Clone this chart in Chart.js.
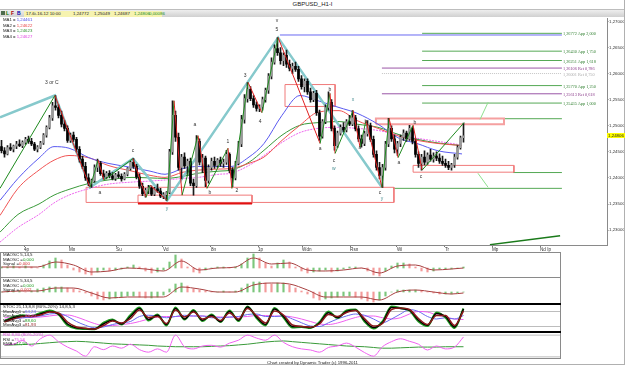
<!DOCTYPE html>
<html>
<head>
<meta charset="utf-8">
<title>GBPUSD_H1-I</title>
<script src="https://cdn.jsdelivr.net/npm/chart.js@4.4.1/dist/chart.umd.min.js"></script>
<style>
html,body{margin:0;padding:0;background:#fff}
body{position:relative;width:625px;height:365px;overflow:hidden;font-family:"Liberation Sans","DejaVu Sans",sans-serif;color:#222}
canvas{position:absolute;left:0}
.a{position:absolute;white-space:nowrap}
.n{font-family:"Liberation Sans Narrow","Liberation Sans",sans-serif}
.leg{font-size:4.3px;line-height:5px;left:3px}
.pl{font-size:4.4px;line-height:4.6px;left:3px}
.wave{position:absolute;font-size:5px;line-height:5px;transform:translate(-50%,-50%);white-space:nowrap;color:#333}
.proj{position:absolute;font-family:"Liberation Serif",serif;font-size:4.3px;line-height:5px;transform:translateY(-50%);white-space:nowrap}
.ln{position:absolute}
</style>
</head>
<body>
<div class="a" style="left:0;top:0;width:625px;text-align:center;font-size:6px;line-height:8px">GBPUSD_H1-I</div>
<div class="ln" style="left:0;top:9px;width:625px;height:8px;background:linear-gradient(#eeeeee,#d0d0d0);border-top:1px solid #bdbdbd;box-sizing:border-box"></div>
<div class="ln" style="left:1px;top:11px;width:4px;height:4px;background:#4d6b4d"></div>
<div class="a" style="left:6px;top:10px;font-size:5px;line-height:6px;font-weight:bold;color:#070">L</div>
<div class="a" style="left:11px;top:10px;font-size:5px;line-height:6px;font-weight:bold;color:#a00">F</div>
<div class="a" style="left:17px;top:10px;font-size:5px;line-height:6px;font-weight:bold;color:#00a">B</div>
<div class="ln" style="left:24px;top:10.5px;width:138px;height:6px;background:#f6f3b0"></div>
<div class="a n" style="left:26px;top:10.5px;font-size:4.4px;line-height:6px">17-6i-16-12 10:00</div>
<div class="a n" style="left:73px;top:10.5px;font-size:4.4px;line-height:6px">1,24772</div>
<div class="a n" style="left:94px;top:10.5px;font-size:4.4px;line-height:6px">1,25049</div>
<div class="a n" style="left:114px;top:10.5px;font-size:4.4px;line-height:6px">1,24687</div>
<div class="a n" style="left:134px;top:10.5px;font-size:4.4px;line-height:6px;color:#1a8a1a">1,24806</div>
<div class="a n" style="left:149px;top:10.5px;font-size:4.4px;line-height:6px;color:#1a8a1a">0,00086</div>

<canvas id="main" width="625" height="235" style="top:18px"></canvas>

<div class="a n leg" style="top:17px">MA1 = <span style="color:#4a4ae8">1,24461</span></div>
<div class="a n leg" style="top:22.5px">MA2 = <span style="color:#e84040">1,24622</span></div>
<div class="a n leg" style="top:28px">MA3 = <span style="color:#2a902a">1,24623</span></div>
<div class="a n leg" style="top:33.5px">MA4 = <span style="color:#e040e0">1,24627</span></div>

<canvas id="osc1" width="560" height="26" style="top:252px"></canvas>
<canvas id="osc2" width="560" height="26" style="top:278px"></canvas>
<canvas id="stoc" width="560" height="28" style="top:304px"></canvas>
<canvas id="rsi" width="560" height="27" style="top:332px"></canvas>

<div class="ln" style="left:0;top:252px;width:561px;height:107px;border:1px solid #8a8a8a;box-sizing:border-box"></div>
<div class="ln" style="left:0;top:277px;width:561px;height:1px;background:#8a8a8a"></div>
<div class="ln" style="left:0;top:303px;width:561px;height:2px;background:#000"></div>
<div class="ln" style="left:0;top:330.5px;width:561px;height:2px;background:#000"></div>
<div class="ln" style="left:624px;top:0;width:1px;height:365px;background:#b0b0b0"></div>
<div class="ln" style="left:0;top:364px;width:625px;height:1px;background:#b0b0b0"></div>

<div class="a pl" style="top:253px">MAOSC 5,14,5</div>
<div class="a pl" style="top:257.6px">MAOSC =<span style="color:#1a9a1a">0,000</span></div>
<div class="a pl" style="top:262.2px">Signal =<span style="color:#d03030">0,000</span></div>
<div class="a pl" style="top:279px">MAOSC 5,34,5</div>
<div class="a pl" style="top:283.6px">MAOSC =<span style="color:#1a9a1a">0,000</span></div>
<div class="a pl" style="top:288.2px">Signal =<span style="color:#d03030">-0,002</span></div>
<div class="a pl" style="top:305px">STOC 21,13,8,8 (80%-20%) 14,8,5,3</div>
<div class="a pl" style="top:309.6px">MovAvg1 =<span style="color:#5a5ae8">64,24</span></div>
<div class="a pl" style="top:314.2px">MovAvg2 =<span style="color:#e040e0">48,20</span></div>
<div class="a pl" style="top:318.8px">MovAvg3 =<span style="color:#1a9a1a">88,60</span></div>
<div class="a pl" style="top:323.4px">MovAvg3 =<span style="color:#8b1a1a">81,93</span></div>
<div class="a pl" style="top:333px;color:#e050e0">RSI 8,80 (80%-20%)</div>
<div class="a pl" style="top:337.6px">RSI =<span style="color:#e050e0">75,56</span></div>
<div class="a pl" style="top:342.2px">EMA =<span style="color:#1a9a1a">47,94</span></div>

<div class="a n" style="left:0;top:359.5px;width:625px;text-align:center;font-size:4.3px;line-height:5px">Chart created by Dynamic Trader  (c) 1996-2011</div>

<script>
// ---------------- price bars (GBPUSD H1) ----------------
var opens = [
 1.2460,1.2452,1.2446,1.2458,1.2455,1.2461,1.2465,1.2462,1.2468,1.2474,
 1.2470,1.2465,1.2455,1.2459,1.2467,1.2482,1.2497,1.2515,1.2538,1.2535,
 1.2520,1.2503,1.2495,1.2472,1.2482,1.2474,1.2455,1.2436,1.2422,1.2400,
 1.2390,1.2395,1.2420,1.2428,1.2408,1.2402,1.2409,1.2404,1.2399,1.2406,
 1.2403,1.2398,1.2407,1.2418,1.2430,1.2422,1.2402,1.2384,1.2370,1.2376,
 1.2381,1.2369,1.2379,1.2375,1.2365,1.2368,1.2372,1.2450,1.2520,1.2478,
 1.2420,1.2440,1.2423,1.2432,1.2390,1.2385,1.2470,1.2430,1.2438,1.2395,
 1.2420,1.2432,1.2424,1.2434,1.2428,1.2430,1.2445,1.2415,1.2400,1.2428,
 1.2465,1.2512,1.2552,1.2570,1.2552,1.2540,1.2533,1.2536,1.2550,1.2568,
 1.2595,1.2622,1.2648,1.2640,1.2625,1.2635,1.2618,1.2610,1.2614,1.2608,
 1.2590,1.2575,1.2585,1.2565,1.2550,1.2562,1.2525,1.2480,1.2508,1.2535,
 1.2545,1.2495,1.2462,1.2486,1.2497,1.2492,1.2508,1.2503,1.2515,1.2494,
 1.2475,1.2466,1.2485,1.2500,1.2474,1.2445,1.2420,1.2405,1.2420,1.2465,
 1.2495,1.2475,1.2455,1.2466,1.2478,1.2486,1.2475,1.2495,1.2470,1.2445,
 1.2428,1.2440,1.2430,1.2444,1.2436,1.2442,1.2438,1.2432,1.2428,1.2424,
 1.2420,1.2425,1.2440,1.2458,1.24772
];
var highs = [
 1.2472,1.2458,1.2462,1.2466,1.2463,1.2470,1.2473,1.2471,1.2478,1.2480,
 1.2476,1.2468,1.2462,1.2470,1.2485,1.2500,1.2520,1.2545,1.2558,1.2540,
 1.2528,1.2510,1.2500,1.2486,1.2488,1.2478,1.2460,1.2442,1.2430,1.2408,
 1.2398,1.2425,1.2436,1.2432,1.2415,1.2412,1.2414,1.2410,1.2409,1.2412,
 1.2408,1.2410,1.2420,1.2432,1.2437,1.2426,1.2408,1.2390,1.2380,1.2386,
 1.2385,1.2382,1.2388,1.2380,1.2372,1.2374,1.2455,1.2548,1.2528,1.2486,
 1.2445,1.2448,1.2436,1.2438,1.2398,1.2481,1.2475,1.2445,1.2442,1.2425,
 1.2438,1.2440,1.2437,1.2440,1.2436,1.2453,1.2448,1.2420,1.2432,1.2470,
 1.2520,1.2560,1.2583,1.2575,1.2558,1.2546,1.2540,1.2555,1.2572,1.2600,
 1.2630,1.2655,1.2669,1.2650,1.2640,1.2645,1.2626,1.2620,1.2622,1.2614,
 1.2596,1.2590,1.2590,1.2572,1.2566,1.2568,1.2530,1.2512,1.2540,1.2565,
 1.2550,1.2500,1.2490,1.2502,1.2506,1.2512,1.2520,1.2529,1.2520,1.2500,
 1.2482,1.2490,1.2510,1.2505,1.2480,1.2452,1.2430,1.2426,1.2470,1.2514,
 1.2500,1.2482,1.2470,1.2482,1.2492,1.2490,1.2501,1.2498,1.2475,1.2450,
 1.2445,1.2452,1.2448,1.2455,1.2448,1.2450,1.2446,1.2442,1.2436,1.2432,
 1.2428,1.2445,1.2462,1.2480,1.25049
];
var lows = [
 1.2448,1.2440,1.2444,1.2452,1.2450,1.2456,1.2460,1.2458,1.2464,1.2466,
 1.2462,1.2452,1.2450,1.2456,1.2464,1.2478,1.2494,1.2510,1.2530,1.2515,
 1.2498,1.2490,1.2468,1.2468,1.2470,1.2450,1.2430,1.2418,1.2395,1.2385,
 1.2382,1.2392,1.2412,1.2405,1.2398,1.2398,1.2400,1.2396,1.2395,1.2400,
 1.2394,1.2396,1.2404,1.2415,1.2418,1.2398,1.2380,1.2366,1.2363,1.2370,
 1.2366,1.2366,1.2372,1.2362,1.2360,1.2357,1.2370,1.2445,1.2470,1.2415,
 1.2398,1.2418,1.2405,1.2385,1.2367,1.2382,1.2425,1.2410,1.2383,1.2390,
 1.2415,1.2418,1.2420,1.2422,1.2420,1.2426,1.2410,1.2383,1.2396,1.2425,
 1.2460,1.2505,1.2545,1.2548,1.2535,1.2528,1.2527,1.2530,1.2545,1.2562,
 1.2590,1.2618,1.2635,1.2618,1.2615,1.2612,1.2605,1.2600,1.2604,1.2585,
 1.2570,1.2565,1.2560,1.2545,1.2546,1.2520,1.2472,1.2476,1.2504,1.2530,
 1.2490,1.2453,1.2458,1.2482,1.2488,1.2488,1.2500,1.2500,1.2490,1.2470,
 1.2459,1.2462,1.2480,1.2470,1.2440,1.2415,1.2398,1.2382,1.2415,1.2460,
 1.2470,1.2448,1.2443,1.2460,1.2472,1.2470,1.2472,1.2465,1.2440,1.2420,
 1.2415,1.2425,1.2426,1.2432,1.2430,1.2433,1.2428,1.2424,1.2420,1.2416,
 1.2415,1.2420,1.2436,1.2455,1.24687
];
var closes = [
 1.2452,1.2446,1.2458,1.2455,1.2461,1.2465,1.2462,1.2468,1.2474,1.2470,
 1.2465,1.2455,1.2459,1.2467,1.2482,1.2497,1.2515,1.2538,1.2535,1.2520,
 1.2503,1.2495,1.2472,1.2482,1.2474,1.2455,1.2436,1.2422,1.2400,1.2390,
 1.2395,1.2420,1.2428,1.2408,1.2402,1.2409,1.2404,1.2399,1.2406,1.2403,
 1.2398,1.2407,1.2418,1.2430,1.2422,1.2402,1.2384,1.2370,1.2376,1.2381,
 1.2369,1.2379,1.2375,1.2365,1.2368,1.2372,1.2450,1.2520,1.2478,1.2420,
 1.2440,1.2423,1.2432,1.2390,1.2385,1.2470,1.2430,1.2438,1.2395,1.2420,
 1.2432,1.2424,1.2434,1.2428,1.2430,1.2445,1.2415,1.2400,1.2428,1.2465,
 1.2512,1.2552,1.2570,1.2552,1.2540,1.2533,1.2536,1.2550,1.2568,1.2595,
 1.2622,1.2648,1.2640,1.2625,1.2635,1.2618,1.2610,1.2614,1.2608,1.2590,
 1.2575,1.2585,1.2565,1.2550,1.2562,1.2525,1.2480,1.2508,1.2535,1.2545,
 1.2495,1.2462,1.2486,1.2497,1.2492,1.2508,1.2503,1.2515,1.2494,1.2475,
 1.2466,1.2485,1.2500,1.2474,1.2445,1.2420,1.2405,1.2420,1.2465,1.2495,
 1.2475,1.2455,1.2466,1.2478,1.2486,1.2475,1.2495,1.2470,1.2445,1.2428,
 1.2440,1.2430,1.2444,1.2436,1.2442,1.2438,1.2432,1.2428,1.2424,1.2420,
 1.2425,1.2440,1.2458,1.2477,1.24806
];

// moving averages, read at these bars
var maBars = [0,6,13,18,23,30,36,44,50,55,61,66,73,77,83,88,94,100,106,113,119,126,133,139,146,154];
var ma1 = [1.2357,1.2399,1.2438,1.2460,1.2457,1.2438,1.2428,1.2420,1.2413,1.2407,1.2418,1.2422,1.2422,1.2422,1.2440,1.2466,1.2520,1.2558,1.2548,1.2535,1.2524,1.2503,1.2476,1.2466,1.2452,1.2446];
var ma2 = [1.2328,1.2380,1.2415,1.2434,1.2443,1.2438,1.2424,1.2413,1.2405,1.2401,1.2411,1.2415,1.2417,1.2418,1.2428,1.2440,1.2472,1.2501,1.2526,1.2529,1.2510,1.2495,1.2480,1.2472,1.2466,1.2462];
var ma3 = [1.2296,1.2330,1.2350,1.2367,1.2378,1.2390,1.2396,1.2401,1.2400,1.2399,1.2403,1.2409,1.2413,1.2415,1.2430,1.2453,1.2482,1.2501,1.2506,1.2508,1.2503,1.2497,1.2483,1.2474,1.2467,1.2462];
var ma4 = [1.2277,1.2305,1.2330,1.2352,1.2367,1.2380,1.2388,1.2392,1.2394,1.2396,1.2399,1.2401,1.2407,1.2409,1.2424,1.2443,1.2468,1.2487,1.2495,1.2497,1.2495,1.2491,1.2482,1.2476,1.2470,1.2463];

// wave count lines
var cyanBars = [0,18.3,30,44.3,55.7,92.7,127.3];
var cyanPrices = [1.2516,1.2558,1.2382,1.2437,1.2357,1.2669,1.2382];
var swingBars = [0,18.3,30,32.7,34.7,44.3,48.7,50,55.7,58,60.7,66,69,76,77.3,82.7,87.3,92.7,106.7,110,111.7,117.7,120,122,127.3,129.7,132.7,137.7,140.7,154.7];
var swingPrices = [1.2380,1.2558,1.2382,1.2434,1.2396,1.2437,1.2363,1.2386,1.2357,1.2548,1.2367,1.2481,1.2380,1.2457,1.2380,1.2583,1.2525,1.2669,1.2466,1.2562,1.2447,1.2529,1.2459,1.2510,1.2382,1.2514,1.2439,1.2501,1.2415,1.2506];
var projUpBars = [160,162.7], projUpPrices = [1.2512,1.2545];
var projDnBars = [159.3,162.7], projDnPrices = [1.2409,1.2382];
var trendBars = [163.3,186.7], trendPrices = [1.2272,1.2289];

// boxes
var boxFrom = [28.7,95,125.3,137.7,46];
var boxTo = [131.3,111.7,168,171.3,84];
var boxLow = [1.2353,1.2537,1.2503,1.2411,1.2351];
var boxHigh = [1.2382,1.2579,1.2514,1.2424,1.2367];

// projection / retracement levels
var projPrices = [1.26772,1.26430,1.26251,1.26106,1.26001,1.25770,1.25613,1.25435];
var projTexts = ["1,26772 App 2,000","1,26430 App 1,750","1,26251 App 1,618","1,26106 Ret 0,786","1,26001 Ret 0,750","1,25770 App 1,250","1,25613 Ret 0,618","1,25435 App 1,000"];
var projKinds = ["app","app","app","ret","ret75","app","ret","app"];
var projFrom = [140.7,140.7,140.7,127.3,127.3,140.7,127.3,140.7];
var levelPrices = [1.26740,1.25135,1.24103,1.23800];
var levelFrom = [93.3,167.7,171,131];
var levelEnd = 187.3;

// axes
var xTickBars = [8,23,38.7,54.3,70.3,86,100.7,116.7,132.3,148.3,164,180];
var xTickLabels = ["4p","Mn","Su","Vd","8n","1p","Wdn","Rsn","Wi","Tr","Mp","Nd Ip"];
var yTicks = [1.230,1.235,1.240,1.245,1.250,1.255,1.260,1.265,1.270];

// wave labels
var waveBars = [17.3,33.3,44.3,55.7,65,70,76,79,81.7,86.7,92.3,92.3,110,106.7,111.3,111.3,117.7,122,120,126.7,127.3,133,138.3,140.3];
var wavePrices = [1.2583,1.2373,1.2453,1.2342,1.2503,1.2373,1.2470,1.2377,1.2598,1.2510,1.2686,1.2703,1.2570,1.2457,1.2434,1.2419,1.2552,1.2510,1.2459,1.2373,1.2361,1.2430,1.2508,1.2403];
var waveTexts = ["3 or C","a","c","y","a","b","1","2","3","4","5","v","b","a","c","w","x","b","a","c","y","a","b","c"];

// ---------------- indicators ----------------
var sigBars = [0,6,12,18,24,30,36,42,48,54,60,66,72,78,84,90,96,102,108,114,120,126,132,138,144,150,154];
var osc1Hist = [1,1,2,1,2,1,0,3,7,10, 8,3,-2,-4,-6,-7,-4,-2,-3,-2, -1,1,3,1,-3,-5,-4,-2,6,13, 9,1,-4,-5,-2,0,1,1,0,1, 4,10,14,10,5,2,5,8,6,1, -3,-5,-4,-3,-2,-4,-3,-1,1,1, 0,-3,-7,-8,-3,2,5,5,4,1, -3,-4,-3,-1,-1,-1,0,1];
var osc1Sig = [1,1,1,6,3,-4,-3,0,-1,-3, 7,-2,0,1,10,4,5,-2,-3,-2, 0,-5,2,3,-2,-1,0];
var osc2Hist = [0,1,1,1,0,1,3,4,5,5, 5,4,3,1,-1,-4,-7,-8,-7,-6, -5,-4,-4,-5,-6,-6,-5,-3,3,8, 9,6,3,2,1,0,0,1,0,1, 4,8,10,10,9,8,9,9,7,4, 1,-2,-6,-8,-7,-6,-5,-4,-4,-5, -7,-9,-10,-8,-4,0,2,2,2,2, 1,0,-1,-2,-2,-2,-1,0];
var osc2Sig = [0,1,1,4,4,-1,-6,-5,-5,-5, 5,3,0,0,7,9,8,2,-5,-5, -5,-8,0,2,0,-2,-1];

var stK = [40,55,62,60,70,80,70,30,15,12, 10,30,45,30,60,92,48,65,28,92, 50,82,45,65,40,80,45,98,58,28, 90,60,20,20,16,34,75,56,80,85, 45,16,36,96,92,86,45,25,72,60, 18,90];
var stFast = [42,58,65,62,74,84,68,25,12,10, 9,35,48,28,66,96,44,68,24,96, 48,86,42,68,38,84,42,100,54,24, 94,56,16,18,14,38,80,54,84,88, 40,12,40,100,94,84,40,22,76,56, 14,92];
var stSlow = [38,50,60,61,66,78,74,38,18,13, 10,24,42,34,52,86,56,60,32,86, 58,78,50,60,44,74,50,92,64,34, 82,66,26,20,17,30,68,60,76,84, 52,22,32,88,94,88,52,28,64,64, 24,82];
var stAvg1 = [45,50,55,58,62,70,72,60,40,25, 15,18,28,35,40,60,65,62,55,60, 65,62,62,55,55,58,60,68,70,60, 60,62,50,35,22,20,35,50,62,70, 65,50,35,50,70,88,80,60,50,55, 50,64];
var stAvg2 = [55,55,55,56,58,62,66,66,58,45, 32,24,24,28,32,40,50,58,60,60, 60,62,62,60,58,57,58,60,64,64, 62,62,58,50,40,30,28,34,45,56, 62,62,55,50,55,70,80,78,66,58, 50,48];
var rsiVals = [53,55,65,50,70,80,62,47,36,22, 48,40,50,44,55,40,33,42,33,80, 48,42,50,52,47,58,66,80,72,66, 80,60,48,42,39,33,46,50,58,47, 32,22,48,62,70,63,55,39,50,42, 47,75];
var rsiEma = [52,53,54,55,57,59,61,62,63,62, 60,58,56,55,54,53,52,50,49,48, 48,48,48,49,50,51,53,55,58,61, 63,64,62,60,58,56,54,52,50,49, 48,46,44,44,45,46,47,47,47,48, 48,48];
var stLevels = [20,80];
var rsiLevels = [20,80];

// ---------------- drawing ----------------
Chart.defaults.font.family = '"Liberation Sans Narrow","Liberation Sans",sans-serif';
Chart.defaults.elements.point.radius = 0;
Chart.defaults.elements.line.borderWidth = 1;

function pts(xs, ys) {
	return xs.map(function(x, i){ return {x: x, y: ys[i]}; });
}
function flat(x0, x1, y) {
	return [{x: x0, y: y}, {x: x1, y: y}];
}
function baseOpts(scales) {
	return {
		responsive: false, animation: false, events: [], devicePixelRatio: 1,
		layout: {padding: 0},
		plugins: {legend: {display: false}, tooltip: {enabled: false}},
		scales: scales
	};
}

var GREEN = '#55a955', PURPLE = '#9a55a6', GREY = '#c4c4c4';
var datasets = [];

// boxes
boxFrom.forEach(function(x0, i){
	var x1 = boxTo[i], lo = boxLow[i], hi = boxHigh[i];
	datasets.push({type: 'line', order: 9, borderColor: i == 2 ? '#f5a0a0' : '#f07a7a', borderWidth: i == 2 ? 2 : 1,
		data: [{x:x0,y:lo},{x:x0,y:hi},{x:x1,y:hi},{x:x1,y:lo},{x:x0,y:lo}]});
});
datasets.push({type: 'line', order: 8, borderColor: '#e01010', borderWidth: 2, data: flat(boxFrom[4], boxTo[4], boxLow[4])});

// levels
projPrices.forEach(function(p, i){
	var k = projKinds[i];
	datasets.push({type: 'line', order: 9, borderColor: k == 'app' ? GREEN : (k == 'ret' ? PURPLE : GREY),
		borderDash: k == 'ret75' ? [1, 1] : [], data: flat(projFrom[i], levelEnd, p)});
});
levelPrices.forEach(function(p, i){
	datasets.push({type: 'line', order: 9, borderColor: i == 0 ? '#6a6af2' : GREEN, data: flat(levelFrom[i], levelEnd, p)});
});

// moving averages
[[ma1, '#5a5af0', []], [ma2, '#f05555', []], [ma3, '#3a9a3a', []], [ma4, '#ee66ee', [2, 1]]].forEach(function(m){
	datasets.push({type: 'line', order: 7, borderColor: m[1], borderDash: m[2], cubicInterpolationMode: 'monotone', data: pts(maBars, m[0])});
});

// cyan wave line
datasets.push({type: 'line', order: 6, borderColor: '#86c9cc', borderWidth: 2.5, data: pts(cyanBars, cyanPrices)});

// candles
var barX = closes.map(function(c, i){ return i + 0.5; });
datasets.push({type: 'bar', order: 5, grouped: false, barThickness: 1, backgroundColor: '#1a1a1a',
	data: barX.map(function(x, i){ return {x: x, y: [lows[i], highs[i]]}; })});
datasets.push({type: 'bar', order: 4, grouped: false, barThickness: 2,
	backgroundColor: closes.map(function(c, i){ return c >= opens[i] ? '#9a9a9a' : '#000'; }),
	data: barX.map(function(x, i){ return {x: x, y: [opens[i], closes[i]]}; })});

// swings
datasets.push({type: 'line', order: 1, borderColor: '#1e8a1e',
	segment: {borderColor: function(c){ return c.p1.parsed.y > c.p0.parsed.y ? '#1e8a1e' : '#e02020'; }},
	data: pts(swingBars, swingPrices)});
datasets.push({type: 'line', order: 1, borderColor: '#8ee08e', data: pts(projUpBars, projUpPrices)});
datasets.push({type: 'line', order: 1, borderColor: '#8ee08e', data: pts(projDnBars, projDnPrices)});
datasets.push({type: 'line', order: 1, borderColor: '#1a7a1a', borderWidth: 1.5, data: pts(trendBars, trendPrices)});

var main = new Chart(document.getElementById('main'), {
	type: 'bar',
	data: {datasets: datasets},
	options: baseOpts({
		x: {
			type: 'linear', min: 0, max: 202.33, offset: false,
			afterBuildTicks: function(s){ s.ticks = xTickBars.map(function(v){ return {value: v}; }); },
			afterFit: function(s){ s.height = 8; },
			ticks: {autoSkip: false, maxRotation: 0, align: 'start', padding: 0, color: '#333', font: {size: 4.6},
				callback: function(v, i){ return xTickLabels[i]; }},
			grid: {drawOnChartArea: false, offset: false, tickLength: 2, color: '#777'},
			border: {color: '#8a8a8a'}
		},
		y: {
			position: 'right', min: 1.22714, max: 1.27052, beginAtZero: false,
			afterBuildTicks: function(s){ s.ticks = yTicks.map(function(v){ return {value: v}; }); },
			afterFit: function(s){ s.width = 18; },
			ticks: {padding: 0.5, color: '#333', font: {size: 4.4, lineHeight: 0.1},
				callback: function(v){ return v.toFixed(5).replace('.', ','); }},
			grid: {drawOnChartArea: false, tickLength: 1.5, color: '#777'},
			border: {color: '#8a8a8a'}
		}
	})
});

// texts placed through the scales
var TOP = 18;
var sx = main.scales.x, sy = main.scales.y;
function addText(cls, text, left, top, color) {
	var d = document.createElement('div');
	d.className = cls;
	d.textContent = text;
	d.style.left = left + 'px';
	d.style.top = top + 'px';
	if (color) d.style.color = color;
	document.body.appendChild(d);
}
waveTexts.forEach(function(t, i){
	var teal = (t == 'w' || t == 'x' || t == 'y');
	addText('wave', t, sx.getPixelForValue(waveBars[i]), TOP + sy.getPixelForValue(wavePrices[i]), teal ? '#4a8f92' : '#333');
});
projTexts.forEach(function(t, i){
	var k = projKinds[i];
	addText('proj', t, sx.getPixelForValue(levelEnd) + 1, TOP + sy.getPixelForValue(projPrices[i]),
		k == 'app' ? '#2f7f2f' : (k == 'ret' ? '#8a3a8a' : '#aaa'));
});
var last = closes[closes.length - 1];
var tag = document.createElement('div');
tag.className = 'a n';
tag.textContent = last.toFixed(5).replace('.', ',');
tag.style.cssText = 'left:607px;width:18px;height:5px;line-height:5px;font-size:4.4px;background:#ffff00;text-align:center;top:' + (TOP + sy.getPixelForValue(last) - 2.5) + 'px';
document.body.appendChild(tag);

// lower panels
function panelScales(yMin, yMax) {
	return {
		x: {type: 'linear', display: false, min: 0, max: 186.67, offset: false, grid: {offset: false}},
		y: {display: false, min: yMin, max: yMax, beginAtZero: false}
	};
}
function histSet(vals) {
	return {type: 'bar', order: 2, grouped: false, barThickness: 1.5,
		backgroundColor: vals.map(function(v, k){ return k == 0 || v >= vals[k - 1] ? '#7cc67c' : '#f39a9a'; }),
		data: vals.map(function(v, k){ return {x: 2 * k + 0.5, y: v}; })};
}
function sigSet(vals) {
	return {type: 'line', order: 1, borderColor: '#a84040', cubicInterpolationMode: 'monotone',
		data: vals.map(function(v, k){ return {x: sigBars[k] + 0.5, y: v}; })};
}
function oscLine(vals, color, width, order) {
	return {type: 'line', order: order, borderColor: color, borderWidth: width, cubicInterpolationMode: 'monotone',
		data: vals.map(function(v, m){ return {x: 3 * m + 1.5, y: v}; })};
}
function levelSet(v) {
	return {type: 'line', order: 9, borderColor: '#bdbdbd', data: flat(0, 186.67, v)};
}

new Chart(document.getElementById('osc1'), {type: 'bar', data: {datasets: [histSet(osc1Hist), sigSet(osc1Sig)]}, options: baseOpts(panelScales(-10, 16))});
new Chart(document.getElementById('osc2'), {type: 'bar', data: {datasets: [histSet(osc2Hist), sigSet(osc2Sig)]}, options: baseOpts(panelScales(-12, 14))});
new Chart(document.getElementById('stoc'), {type: 'bar', data: {datasets: [
	levelSet(stLevels[0]), levelSet(stLevels[1]),
	oscLine(stAvg2, '#f060f0', 1, 6),
	oscLine(stAvg1, '#6a6af0', 1, 5),
	oscLine(stFast, '#1e9a1e', 2, 4),
	oscLine(stK, '#000', 1.5, 3),
	oscLine(stSlow, '#8b1a1a', 1.5, 2)
]}, options: baseOpts(panelScales(-2, 110))});
new Chart(document.getElementById('rsi'), {type: 'bar', data: {datasets: [
	levelSet(rsiLevels[0]), levelSet(rsiLevels[1]),
	oscLine(rsiEma, '#3a9a3a', 1, 3),
	oscLine(rsiVals, '#f060f0', 1, 2)
]}, options: baseOpts(panelScales(14.1, 88.7))});
</script>
</body>
</html>
